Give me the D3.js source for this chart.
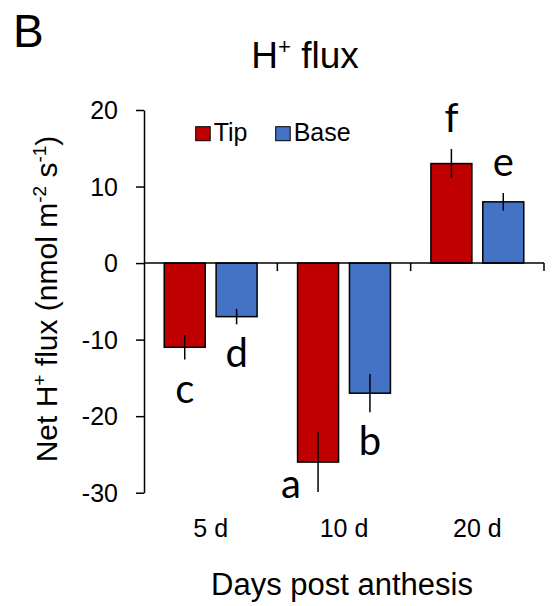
<!DOCTYPE html>
<html>
<head>
<meta charset="utf-8">
<script src="https://cdn.jsdelivr.net/npm/d3@7"></script>
<style>
  body { margin: 0; background: #fff; }
  text { font-family: "Liberation Sans", Arial, sans-serif; fill: #000; }
  .letter { font-family: Lato, "Liberation Sans", sans-serif; }
</style>
</head>
<body>
<svg id="chart" width="552" height="606"></svg>
<script>
// values
const days = ["5 d", "10 d", "20 d"];
const series = ["Tip", "Base"];
const tipMean = [-11, -26, 13];
const tipErr = [1.6, 3.9, 1.9];
const baseMean = [-7, -17, 8];
const baseErr = [1.0, 2.5, 1.15];
const tipLetters = ["c", "a", "f"];
const baseLetters = ["d", "b", "e"];
const yTicks = [-30, -20, -10, 0, 10, 20];

const colors = { Tip: "#C00000", Base: "#4472C4" };

const svg = d3.select("#chart");

const y = d3.scaleLinear().domain([-30, 20]).range([492.7, 110]);
const x0 = d3.scaleBand().domain(days).range([144, 544]).padding(0);
const x1 = d3.scaleBand().domain(series).range([0, x0.bandwidth()])
  .paddingInner(0.21).paddingOuter(0.39);

const rows = [];
days.forEach((d, i) => {
  rows.push({ day: d, s: "Tip", v: tipMean[i], e: tipErr[i], l: tipLetters[i] });
  rows.push({ day: d, s: "Base", v: baseMean[i], e: baseErr[i], l: baseLetters[i] });
});

// panel letter + title
svg.append("text").attr("x", 13).attr("y", 46.7)
  .style("font-size", "46px").text("B");

const title = svg.append("text").attr("x", 305).attr("y", 67.7)
  .attr("text-anchor", "middle").style("font-size", "37px");
title.append("tspan").text("H");
title.append("tspan").attr("dy", -14).style("font-size", "22px").text("+");
title.append("tspan").attr("dy", 14).text(" flux");

// bars
const cx = r => x0(r.day) + x1(r.s) + x1.bandwidth() / 2;

svg.append("g").selectAll("rect").data(rows).join("rect")
  .attr("x", r => x0(r.day) + x1(r.s))
  .attr("width", x1.bandwidth())
  .attr("y", r => y(Math.max(0, r.v)))
  .attr("height", r => Math.abs(y(r.v) - y(0)))
  .attr("fill", r => colors[r.s])
  .attr("stroke", "#000").attr("stroke-width", 1.5);

// error bars
svg.append("g").selectAll("line").data(rows).join("line")
  .attr("x1", cx).attr("x2", cx)
  .attr("y1", r => y(r.v + r.e)).attr("y2", r => y(r.v - r.e))
  .attr("stroke", "#000").attr("stroke-width", 1.5);

// significance letters
const letterNudge = { a: [-27, -37] };
svg.append("g").selectAll("text").data(rows).join("text")
  .attr("class", "letter")
  .attr("text-anchor", "middle")
  .style("font-size", "40px")
  .attr("x", r => cx(r) + (letterNudge[r.l] ? letterNudge[r.l][0] : 0))
  .attr("y", r => {
    const base = r.v < 0 ? y(r.v - r.e) + 43 : y(r.v + r.e) - 16.6;
    return base + (letterNudge[r.l] ? letterNudge[r.l][1] : 0);
  })
  .text(r => r.l);

// y axis
const yAxis = svg.append("g").attr("transform", "translate(144,0)")
  .call(d3.axisLeft(y).tickValues(yTicks).tickFormat(d => String(d))
    .tickSize(8).tickSizeOuter(0).tickPadding(18));
yAxis.selectAll("text").style("font-size", "25px")
  .attr("font-family", null).attr("dy", "0.34em");
yAxis.selectAll("line, path").attr("stroke", "#000").attr("stroke-width", 1.5);

// x axis at zero
svg.append("line").attr("x1", 144).attr("x2", 544)
  .attr("y1", y(0)).attr("y2", y(0))
  .attr("stroke", "#000").attr("stroke-width", 1.5);
svg.append("g").selectAll("line").data(days).join("line")
  .attr("x1", d => x0(d) + x0.bandwidth()).attr("x2", d => x0(d) + x0.bandwidth())
  .attr("y1", y(0)).attr("y2", y(0) + 8)
  .attr("stroke", "#000").attr("stroke-width", 1.5);
svg.append("g").selectAll("text").data(days).join("text")
  .attr("x", d => x0(d) + x0.bandwidth() / 2).attr("y", 537)
  .attr("text-anchor", "middle").style("font-size", "25px")
  .text(d => d);

// axis titles
svg.append("text").attr("x", 342).attr("y", 595)
  .attr("text-anchor", "middle").style("font-size", "31px")
  .text("Days post anthesis");

const yt = svg.append("text")
  .attr("transform", "translate(57,299) rotate(-90)")
  .attr("text-anchor", "middle").style("font-size", "30px");
yt.append("tspan").text("Net H");
yt.append("tspan").attr("dy", -11).style("font-size", "19px").text("+");
yt.append("tspan").attr("dy", 11).text(" flux (nmol m");
yt.append("tspan").attr("dy", -11).style("font-size", "19px").text("-2");
yt.append("tspan").attr("dy", 11).text(" s");
yt.append("tspan").attr("dy", -11).style("font-size", "19px").text("-1");
yt.append("tspan").attr("dy", 11).text(")");

// legend
const legX = { Tip: 195.7, Base: 275.7 };
const leg = svg.append("g").selectAll("g").data(series).join("g")
  .attr("transform", s => `translate(${legX[s]},126.7)`);
leg.append("rect").attr("width", 14.5).attr("height", 14)
  .attr("fill", s => colors[s]).attr("stroke", "#000").attr("stroke-width", 1);
leg.append("text").attr("x", 18).attr("y", 14)
  .style("font-size", "25px").text(s => s);
</script>
</body>
</html>
